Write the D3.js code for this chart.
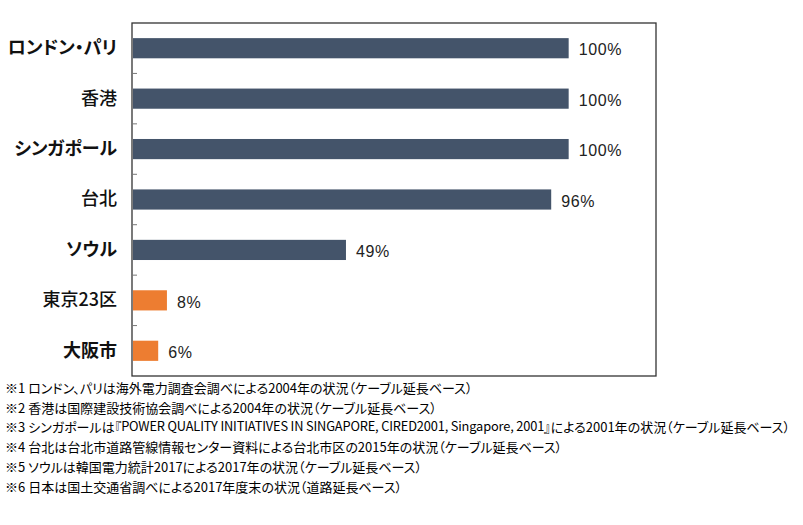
<!DOCTYPE html>
<html><head><meta charset="utf-8">
<script src="https://cdn.jsdelivr.net/npm/d3@7"></script>
<style>
body{margin:0;background:#fff;}
svg text{font-feature-settings:"palt";}
</style></head>
<body><svg id="c" width="803" height="525"></svg>
<script>
const categories = ["ロンドン・パリ","香港","シンガポール","台北","ソウル","東京23区","大阪市"];
const values = [100,100,100,96,49,8,6];
const groups = ["overseas","overseas","overseas","overseas","overseas","japan","japan"];
const labelBold = [true,false,true,false,true,false,true];
const notes = [
 "※1 ロンドン、パリは海外電力調査会調べによる2004年の状況（ケーブル延長ベース）",
 "※2 香港は国際建設技術協会調べによる2004年の状況（ケーブル延長ベース）",
 "※3 シンガポールは『POWER QUALITY INITIATIVES IN SINGAPORE, CIRED2001, Singapore, 2001』による2001年の状況（ケーブル延長ベース）",
 "※4 台北は台北市道路管線情報センター資料による台北市区の2015年の状況（ケーブル延長ベース）",
 "※5 ソウルは韓国電力統計2017による2017年の状況（ケーブル延長ベース）",
 "※6 日本は国土交通省調べによる2017年度末の状況（道路延長ベース）"
];
const xMax = 120;

const svg = d3.select("#c");
const L=132, R=656, T=23, B=376;
const x = d3.scaleLinear().domain([0,xMax]).range([L,R]);
const y = d3.scaleBand().domain(categories).range([T,B]).paddingInner(0.6).paddingOuter(0.3);
const color = d3.scaleOrdinal().domain(["overseas","japan"]).range(["#44546A","#ED7D31"]);

// frame
svg.append("rect").attr("x",L).attr("y",T).attr("width",R-L).attr("height",B-T)
  .attr("fill","none").attr("stroke","#333").attr("stroke-width",1.3);

// ticks between bands
const step = y.step();
svg.selectAll("line.tk").data(categories.slice(1)).join("line")
  .attr("x1",L).attr("x2",L+5)
  .attr("y1",d=>y(d)-step*y.paddingInner()/2).attr("y2",d=>y(d)-step*y.paddingInner()/2)
  .attr("stroke","#777").attr("stroke-width",1);

const data = categories.map((c,i)=>({c,v:values[i],g:groups[i],b:labelBold[i]}));

svg.selectAll("rect.bar").data(data).join("rect")
  .attr("x",x(0)+1).attr("y",d=>y(d.c)).attr("height",y.bandwidth())
  .attr("width",d=>x(d.v)-x(0)-1).attr("fill",d=>color(d.g));

svg.selectAll("text.val").data(data).join("text")
  .attr("x",d=>x(d.v)+10).attr("y",d=>y(d.c)+y.bandwidth()/2+3)
  .attr("dominant-baseline","middle")
  .attr("font-family","Liberation Sans, Arial, sans-serif").attr("font-size",16)
  .attr("letter-spacing",0.6).attr("fill","#222")
  .text(d=>d.v+"%");

svg.selectAll("text.cat").data(data).join("text")
  .attr("x",L-15).attr("y",d=>y(d.c)+y.bandwidth()/2+1)
  .attr("text-anchor","end").attr("dominant-baseline","middle")
  .attr("font-family","Noto Sans CJK JP, sans-serif").attr("font-size",18)
  .attr("font-weight",d=>d.b?"bold":"500").attr("fill","#111")
  .text(d=>d.c);

const noteText = svg.selectAll("text.note").data(notes).join("text")
  .attr("x",5).attr("y",(d,i)=>389+i*19.7)
  .attr("dominant-baseline","middle")
  .attr("font-family","Noto Sans CJK JP, sans-serif").attr("font-size",13)
  .attr("fill","#000");
noteText.each(function(d){
  const parts = d.split(/([A-Za-z][A-Za-z0-9 ,]{10,}[0-9A-Za-z])/);
  const t = d3.select(this);
  parts.forEach((p,i)=>{
    if(!p) return;
    const s = t.append("tspan").text(p);
    if(i%2===1) s.attr("letter-spacing",-0.15).attr("font-size",12.8);
  });
});
</script></body></html>
